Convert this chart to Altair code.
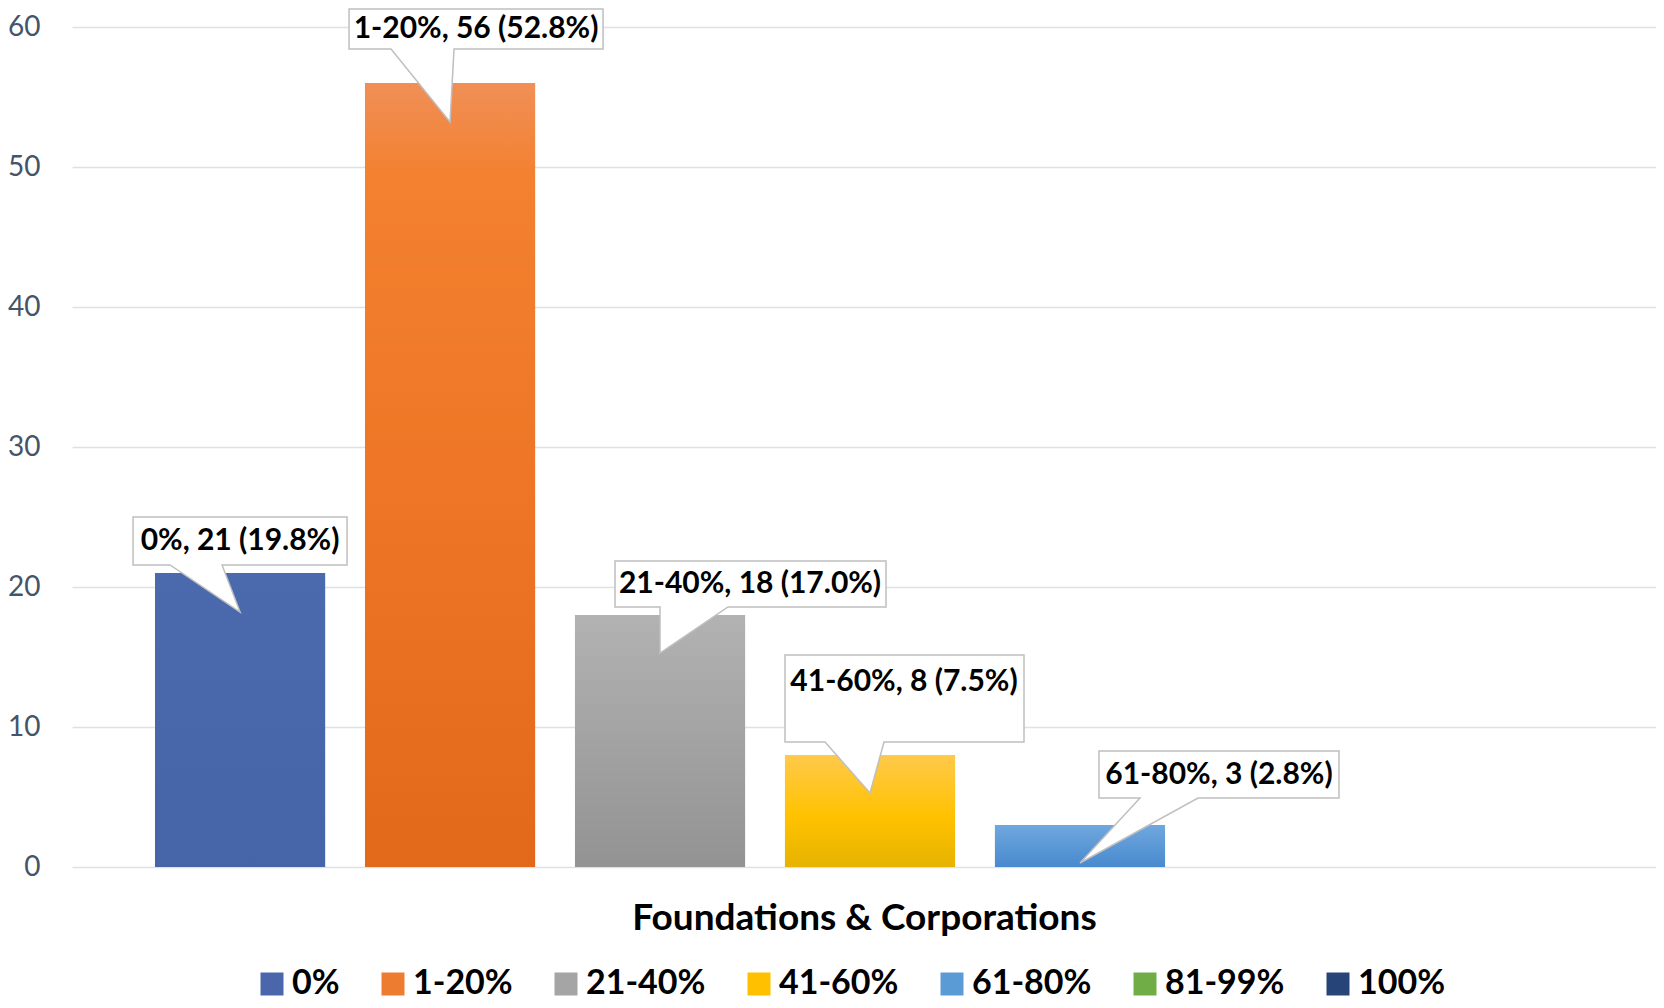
import altair as alt
import pandas as pd

# ---------------- data ----------------
categories = ["0%", "1-20%", "21-40%", "41-60%", "61-80%", "81-99%", "100%"]
counts = [21, 56, 18, 8, 3, 0, 0]
axis_title = "Foundations & Corporations"
y_ticks = [0, 10, 20, 30, 40, 50, 60]

total = sum(counts)
labels = [f"{c}, {n} ({n / total * 100:.1f}%)" for c, n in zip(categories, counts)]
df = pd.DataFrame({"series": categories, "count": counts, "label": labels})

# ---------------- styles ----------------
FONT = "Lato"
legend_colors = ["#4A67AB", "#EE7C30", "#A5A5A5", "#FFC000", "#5B9BD5", "#70AD47", "#264478"]
bar_stops = {
    "0%": [(0, "#4B69AD"), (1, "#4664A8")],
    "1-20%": [(0, "#F08F57"), (0.12, "#F3812F"), (0.5, "#EE7626"), (1, "#E2691A")],
    "21-40%": [(0, "#B2B2B2"), (1, "#939393")],
    "41-60%": [(0, "#FFC94B"), (0.55, "#FFC200"), (1, "#E6B300")],
    "61-80%": [(0, "#70A8DE"), (1, "#4889CE")],
    "81-99%": [(0, "#78B753"), (1, "#5A9A35")],
    "100%": [(0, "#3A5590"), (1, "#1F3A6E")],
}
# callout geometry relative to the top-centre of each bar (pixels)
callouts = {
    "0%":     dict(box=(-107, -56, 107, -8),  base=(-70, -18), tip=(0, 39), text=(0, -32)),
    "1-20%":  dict(box=(-101, -74, 153, -34), base=(-59, 4),   tip=(0, 39), text=(26, -54)),
    "21-40%": dict(box=(-45, -54, 226, -8),   base=(0, 68),    tip=(0, 38), text=(90, -31)),
    "41-60%": dict(box=(-85, -100, 154, -13), base=(-45, 14),  tip=(0, 38), text=(34, -73)),
    "61-80%": dict(box=(19, -74, 259, -27),   base=(60, 118),  tip=(0, 38), text=(139, -50)),
}


def callout_path(g):
    x0, y0, x1, y1 = g["box"]
    b0, b1 = g["base"]
    tx, ty = g["tip"]
    return (f"M {x0} {y0} L {x1} {y0} L {x1} {y1} L {b1} {y1} L {tx} {ty} "
            f"L {b0} {y1} L {x0} {y1} Z")


x_enc = alt.X(
    "series:N",
    scale=alt.Scale(domain=categories, paddingInner=0.19, paddingOuter=0.3667, align=0.539),
    axis=alt.Axis(labels=False, ticks=False, domain=False, grid=False,
                  title=axis_title, titleFont=FONT, titleFontSize=37,
                  titleFontWeight="bold", titleColor="black", titlePadding=33),
)
y_enc = alt.Y(
    "count:Q",
    scale=alt.Scale(domain=[0, 60], nice=False, zero=True),
    axis=alt.Axis(values=y_ticks, title=None, domain=False, ticks=False,
                  labelFont=FONT, labelFontSize=28, labelColor="#44546A",
                  labelPadding=32, gridColor="#DDE1E7", gridWidth=1.5),
)

base = alt.Chart(df)

layers = [
    base.mark_bar().encode(
        x=x_enc, y=y_enc,
        color=alt.Color(
            "series:N",
            scale=alt.Scale(domain=categories, range=legend_colors),
            legend=alt.Legend(
                orient="none", legendX=183, legendY=940, direction="horizontal",
                title=None, symbolType="square", symbolSize=529, symbolStrokeWidth=0,
                labelFont=FONT, labelFontSize=34, labelFontWeight="bold",
                labelColor="black", labelOffset=3, columnPadding=36, labelLimit=400,
            ),
        ),
    )
]

for c in categories:
    grad = alt.Gradient(
        gradient="linear", x1=0, x2=0, y1=0, y2=1,
        stops=[alt.GradientStop(offset=o, color=col) for o, col in bar_stops[c]],
    )
    layers.append(
        base.transform_filter(alt.datum.series == c).mark_bar(color=grad).encode(x=x_enc, y=y_enc)
    )

for c, g in callouts.items():
    sub = base.transform_filter(alt.datum.series == c)
    layers.append(
        sub.mark_point(shape=callout_path(g), size=4, filled=True, fill="white",
                       stroke="#BFBFBF", strokeWidth=1.5, opacity=1,
                       fillOpacity=1, strokeOpacity=1).encode(x=x_enc, y=y_enc)
    )
    layers.append(
        sub.mark_text(dx=g["text"][0], dy=g["text"][1], font=FONT, fontSize=30,
                      fontWeight="bold", color="black", align="center",
                      baseline="middle").encode(x=x_enc, y=y_enc, text="label:N")
    )

chart = alt.layer(*layers).properties(
    width=1584, height=840,
    padding={"left": 64, "top": 19, "right": 0, "bottom": 133},
    autosize=alt.AutoSizeParams(type="none"),
    background="white",
).configure_view(stroke=None)

chart.save("out.html", embed_options={"renderer": "svg", "actions": False})
